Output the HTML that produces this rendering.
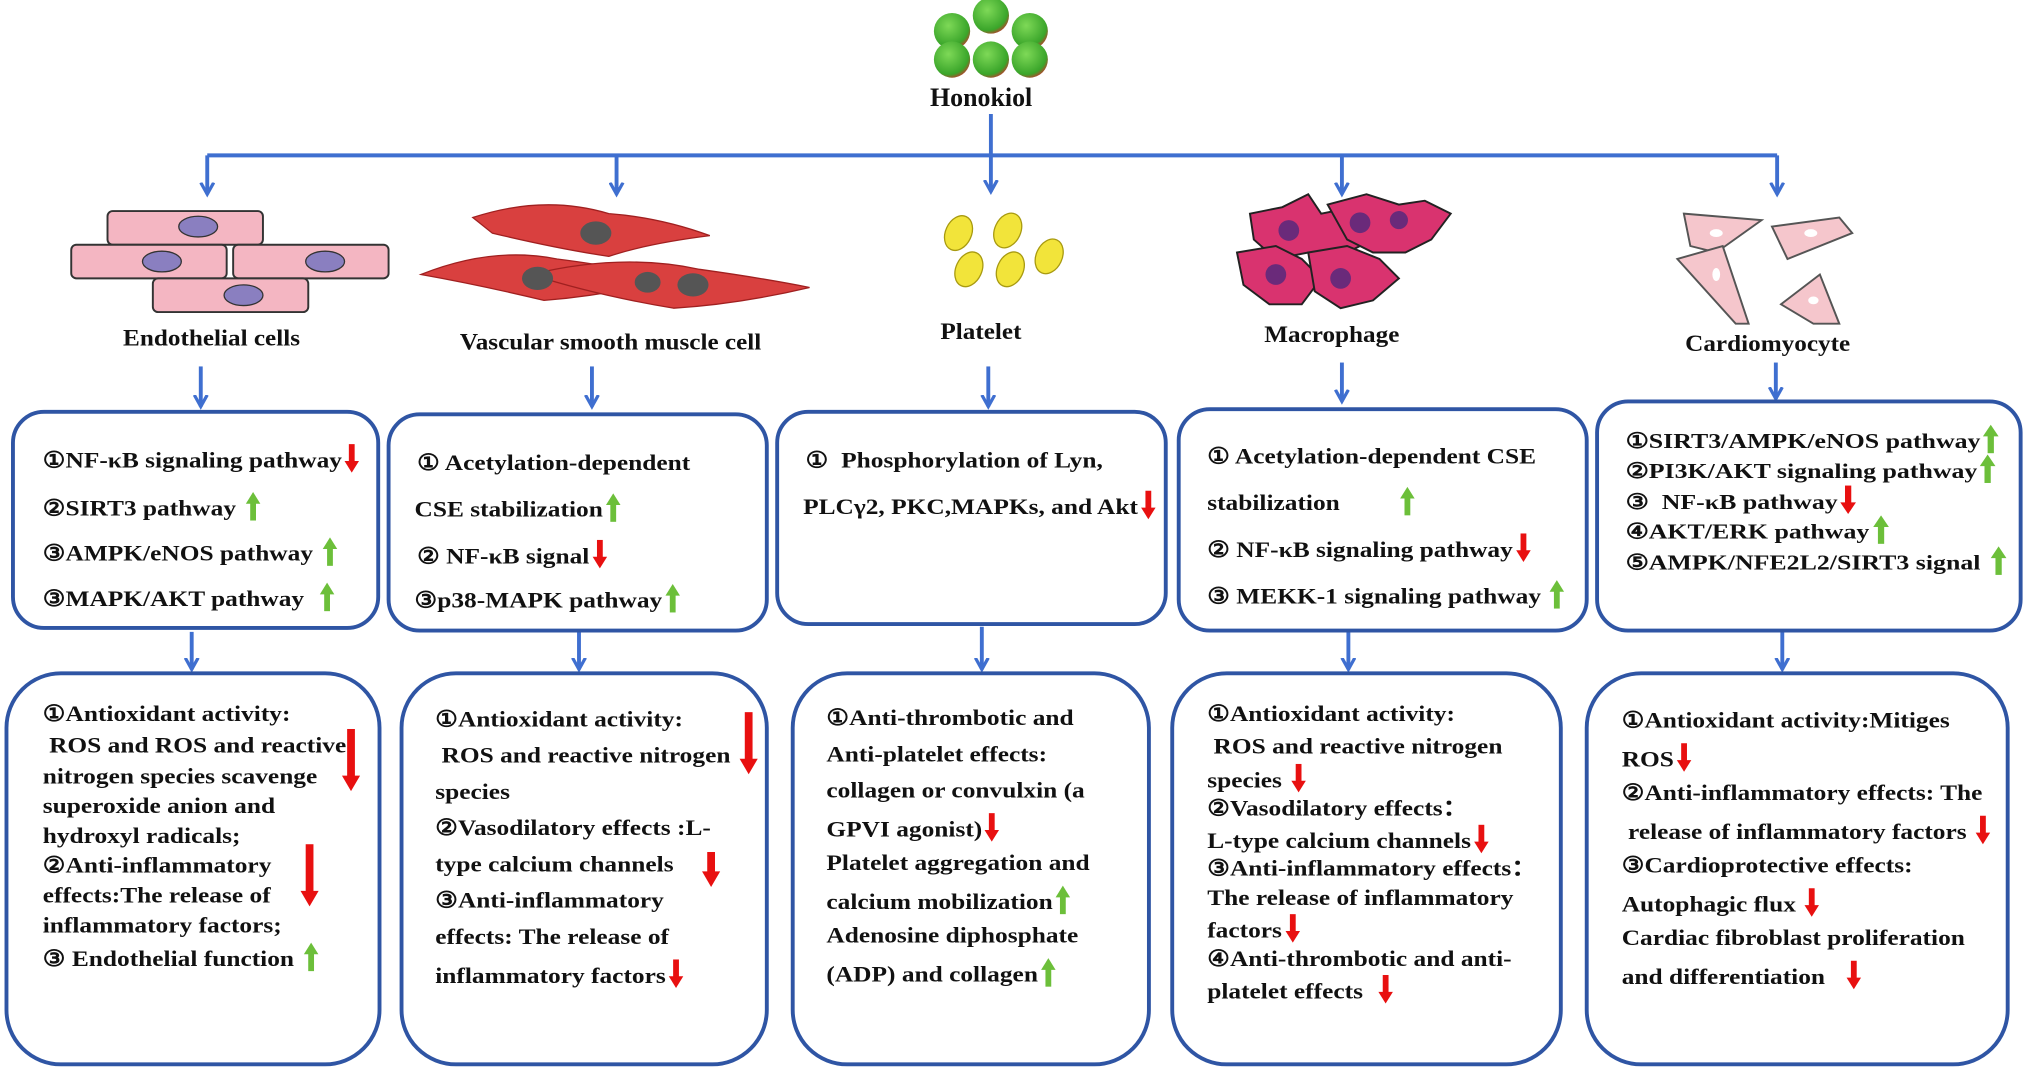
<!DOCTYPE html>
<html><head><meta charset="utf-8"><style>
html,body{margin:0;padding:0;background:#fff;overflow:hidden}
#w{width:1568px;height:831px;position:relative;transform:scale(1.29528,1.29483);transform-origin:0 0}
svg{position:absolute;left:0;top:0}
.t{position:absolute;font-family:"Liberation Serif",serif;font-weight:bold;font-size:17.5px;color:#111;white-space:pre;line-height:20px;transform:scaleX(1.12);transform-origin:0 0}
.s{font-size:16.5px;transform:scaleX(1.21)}
.c{font-size:18px;transform:scaleX(1.08)}
.dn,.up{display:inline-block;position:relative;width:10px;height:22px;vertical-align:-4px;margin-left:2px}
.dn::before{content:"";position:absolute;left:3px;top:0;width:4px;height:14px;background:#e81010}
.dn::after{content:"";position:absolute;left:0;top:13px;border-left:5px solid transparent;border-right:5px solid transparent;border-top:9px solid #e81010}
.up::before{content:"";position:absolute;left:3px;top:8px;width:4px;height:14px;background:#6cbf3a}
.up::after{content:"";position:absolute;left:0;top:0;border-left:5px solid transparent;border-right:5px solid transparent;border-bottom:9px solid #6cbf3a}
.big{position:absolute;width:14px}
.big::before{content:"";position:absolute;left:4px;top:0;width:6px;bottom:10px;background:#e81010}
.big::after{content:"";position:absolute;left:0;bottom:0;border-left:7px solid transparent;border-right:7px solid transparent;border-top:12px solid #e81010}
</style></head><body><div id="w">
<svg width="1568" height="831" viewBox="0 0 1568 831">
<defs><marker id="a" markerWidth="12" markerHeight="12" refX="9" refY="6" orient="auto" markerUnits="userSpaceOnUse"><path d="M0,1 L9,6 L0,11" fill="none" stroke="#3f6fd0" stroke-width="2.5"/></marker>
<radialGradient id="g" cx="0.4" cy="0.35" r="0.7"><stop offset="0" stop-color="#7ed957"/><stop offset="0.8" stop-color="#3aa52a"/><stop offset="1" stop-color="#c0392b"/></radialGradient></defs>
<g fill="url(#g)">
<circle cx="765" cy="12" r="14"/><circle cx="735" cy="24" r="14"/><circle cx="795" cy="24" r="14"/>
<circle cx="735" cy="46" r="14"/><circle cx="765" cy="46" r="14"/><circle cx="795" cy="46" r="14"/></g>
<g stroke="#3f6fd0" stroke-width="3" fill="none">
<line x1="765" y1="88" x2="765" y2="148" marker-end="url(#a)"/>
<line x1="160" y1="120" x2="1372" y2="120"/>
<line x1="160" y1="120" x2="160" y2="150" marker-end="url(#a)"/>
<line x1="476" y1="120" x2="476" y2="150" marker-end="url(#a)"/>
<line x1="1036" y1="120" x2="1036" y2="150" marker-end="url(#a)"/>
<line x1="1372" y1="120" x2="1372" y2="150" marker-end="url(#a)"/>
<line x1="155" y1="283" x2="155" y2="314" marker-end="url(#a)"/>
<line x1="457" y1="283" x2="457" y2="314" marker-end="url(#a)"/>
<line x1="763" y1="283" x2="763" y2="314" marker-end="url(#a)"/>
<line x1="1036" y1="280" x2="1036" y2="310" marker-end="url(#a)"/>
<line x1="1371" y1="280" x2="1371" y2="308" marker-end="url(#a)"/>
<line x1="148" y1="488" x2="148" y2="517" marker-end="url(#a)"/>
<line x1="447" y1="488" x2="447" y2="517" marker-end="url(#a)"/>
<line x1="758" y1="484" x2="758" y2="517" marker-end="url(#a)"/>
<line x1="1041" y1="488" x2="1041" y2="517" marker-end="url(#a)"/>
<line x1="1376" y1="488" x2="1376" y2="517" marker-end="url(#a)"/>
</g>
<g stroke="#2f55a4" stroke-width="3" fill="none">
<rect x="10" y="318" width="282" height="167" rx="24"/>
<rect x="300" y="320" width="292" height="167" rx="24"/>
<rect x="600" y="318" width="300" height="164" rx="24"/>
<rect x="910" y="316" width="315" height="171" rx="24"/>
<rect x="1233" y="310" width="327" height="177" rx="24"/>
<rect x="5" y="520" width="288" height="302" rx="42"/>
<rect x="310" y="520" width="282" height="302" rx="42"/>
<rect x="612" y="520" width="275" height="302" rx="42"/>
<rect x="905" y="520" width="300" height="302" rx="42"/>
<rect x="1225" y="520" width="325" height="302" rx="42"/>
</g>
<g fill="#f4b6c2" stroke="#333" stroke-width="1.5">
<rect x="83" y="163" width="120" height="26" rx="4"/>
<rect x="55" y="189" width="120" height="26" rx="4"/>
<rect x="180" y="189" width="120" height="26" rx="4"/>
<rect x="118" y="215" width="120" height="26" rx="4"/></g>
<g fill="#8a7fc0" stroke="#333"><ellipse cx="153" cy="175" rx="15" ry="8"/><ellipse cx="125" cy="202" rx="15" ry="8"/><ellipse cx="251" cy="202" rx="15" ry="8"/><ellipse cx="188" cy="228" rx="15" ry="8"/></g>
<g fill="#d9403f" stroke="#a02020">
<path d="M365,168 Q420,150 470,165 Q510,168 548,182 Q500,188 470,198 Q430,192 380,180Z"/>
<path d="M325,212 Q380,190 430,200 Q470,205 520,215 Q470,228 420,232 Q370,220 325,212Z"/>
<path d="M410,212 Q480,195 540,208 Q590,215 625,222 Q570,235 520,238 Q460,228 410,212Z"/></g>
<g fill="#555"><ellipse cx="460" cy="180" rx="12" ry="9"/><ellipse cx="415" cy="215" rx="12" ry="9"/><ellipse cx="500" cy="218" rx="10" ry="8"/><ellipse cx="535" cy="220" rx="12" ry="9"/></g>
<g fill="#f2e43a" stroke="#a89a10">
<ellipse cx="740" cy="180" rx="10" ry="14" transform="rotate(25 740 180)"/>
<ellipse cx="778" cy="178" rx="10" ry="14" transform="rotate(25 778 178)"/>
<ellipse cx="810" cy="198" rx="10" ry="14" transform="rotate(25 810 198)"/>
<ellipse cx="748" cy="208" rx="10" ry="14" transform="rotate(25 748 208)"/>
<ellipse cx="780" cy="208" rx="10" ry="14" transform="rotate(25 780 208)"/></g>
<g fill="#d9336f" stroke="#222" stroke-width="1.5">
<path d="M965,165 L990,160 L1010,150 L1020,165 L1045,160 L1060,170 L1050,190 L1030,200 L1010,195 L985,200 L968,185Z"/>
<path d="M1025,158 L1055,150 L1080,158 L1100,155 L1120,165 L1105,185 L1085,195 L1060,195 L1040,185Z"/>
<path d="M955,195 L985,190 L1005,200 L1020,215 L1005,235 L980,235 L960,220Z"/>
<path d="M1010,195 L1040,190 L1065,200 L1080,215 L1060,232 L1035,238 L1015,225Z"/></g>
<g fill="#6a2a7a"><circle cx="995" cy="178" r="8"/><circle cx="1050" cy="172" r="8"/><circle cx="1080" cy="170" r="7"/><circle cx="985" cy="212" r="8"/><circle cx="1035" cy="215" r="8"/></g>
<g fill="#f5c6cc" stroke="#555" stroke-width="1.5">
<path d="M1300,165 L1360,170 L1325,195 L1305,190Z"/>
<path d="M1368,175 L1420,168 L1430,180 L1380,200Z"/>
<path d="M1295,200 L1330,190 L1350,250 L1340,250Z"/>
<path d="M1375,235 L1405,212 L1420,250 L1400,250Z"/></g>
<g fill="#fff"><ellipse cx="1325" cy="180" rx="5" ry="3"/><ellipse cx="1398" cy="180" rx="5" ry="3"/><ellipse cx="1325" cy="212" rx="3" ry="5"/><ellipse cx="1400" cy="232" rx="4" ry="3"/></g>
</svg>

<div class="t c" style="left:718px;top:66px;font-size:20px;transform:none">Honokiol</div>
<div class="t c" style="left:95px;top:251px">Endothelial cells</div>
<div class="t c" style="left:355px;top:254px">Vascular smooth muscle cell</div>
<div class="t c" style="left:726px;top:246px">Platelet</div>
<div class="t c" style="left:976px;top:248px">Macrophage</div>
<div class="t c" style="left:1301px;top:255px">Cardiomyocyte</div>

<div class="t" style="left:33px;top:343px">①NF-κB signaling pathway<span class="dn"></span></div>
<div class="t" style="left:33px;top:380px">②SIRT3 pathway <span class="up"></span></div>
<div class="t" style="left:33px;top:415px">③AMPK/eNOS pathway <span class="up"></span></div>
<div class="t" style="left:33px;top:450px">③MAPK/AKT pathway  <span class="up"></span></div>

<div class="t" style="left:322px;top:347px">① Acetylation-dependent</div>
<div class="t" style="left:320px;top:381px">CSE stabilization<span class="up"></span></div>
<div class="t" style="left:322px;top:417px">② NF-κB signal<span class="dn"></span></div>
<div class="t" style="left:320px;top:451px">③p38-MAPK pathway<span class="up"></span></div>

<div class="t" style="left:622px;top:345px">①  Phosphorylation of Lyn,</div>
<div class="t" style="left:620px;top:379px">PLCγ2, PKC,MAPKs, and Akt<span class="dn"></span></div>

<div class="t" style="left:932px;top:342px">① Acetylation-dependent CSE</div>
<div class="t" style="left:932px;top:376px">stabilization         <span class="up"></span></div>
<div class="t" style="left:932px;top:412px">② NF-κB signaling pathway<span class="dn"></span></div>
<div class="t" style="left:932px;top:448px">③ MEKK-1 signaling pathway <span class="up"></span></div>

<div class="t s" style="left:1255px;top:328px">①SIRT3/AMPK/eNOS pathway<span class="up"></span></div>
<div class="t s" style="left:1255px;top:351px">②PI3K/AKT signaling pathway<span class="up"></span></div>
<div class="t s" style="left:1255px;top:375px">③  NF-κB pathway<span class="dn"></span></div>
<div class="t s" style="left:1255px;top:398px">④AKT/ERK pathway<span class="up"></span></div>
<div class="t s" style="left:1255px;top:422px">⑤AMPK/NFE2L2/SIRT3 signal <span class="up"></span></div>

<div class="t" style="left:33px;top:541px">①Antioxidant activity:</div>
<div class="t" style="left:33px;top:565px"> ROS and ROS and reactive</div>
<div class="t" style="left:33px;top:589px">nitrogen species scavenge</div>
<div class="t" style="left:33px;top:612px">superoxide anion and</div>
<div class="t" style="left:33px;top:635px">hydroxyl radicals;</div>
<div class="t" style="left:33px;top:658px">②Anti-inflammatory</div>
<div class="t" style="left:33px;top:681px">effects:The release of</div>
<div class="t" style="left:33px;top:704px">inflammatory factors;</div>
<div class="t" style="left:33px;top:728px">③ Endothelial function <span class="up"></span></div>
<div class="big" style="left:264px;top:563px;height:48px"></div>
<div class="big" style="left:232px;top:652px;height:48px"></div>

<div class="t" style="left:336px;top:545px">①Antioxidant activity:</div>
<div class="t" style="left:336px;top:573px"> ROS and reactive nitrogen</div>
<div class="t" style="left:336px;top:601px">species</div>
<div class="t" style="left:336px;top:629px">②Vasodilatory effects :L-</div>
<div class="t" style="left:336px;top:657px">type calcium channels</div>
<div class="t" style="left:336px;top:685px">③Anti-inflammatory</div>
<div class="t" style="left:336px;top:713px">effects: The release of</div>
<div class="t" style="left:336px;top:741px">inflammatory factors<span class="dn"></span></div>
<div class="big" style="left:571px;top:550px;height:48px"></div>
<div class="big" style="left:542px;top:658px;height:27px"></div>

<div class="t" style="left:638px;top:544px">①Anti-thrombotic and</div>
<div class="t" style="left:638px;top:572px">Anti-platelet effects:</div>
<div class="t" style="left:638px;top:600px">collagen or convulxin (a</div>
<div class="t" style="left:638px;top:628px">GPVI agonist)<span class="dn"></span></div>
<div class="t" style="left:638px;top:656px">Platelet aggregation and</div>
<div class="t" style="left:638px;top:684px">calcium mobilization<span class="up"></span></div>
<div class="t" style="left:638px;top:712px">Adenosine diphosphate</div>
<div class="t" style="left:638px;top:740px">(ADP) and collagen<span class="up"></span></div>

<div class="t" style="left:932px;top:541px">①Antioxidant activity:</div>
<div class="t" style="left:932px;top:566px"> ROS and reactive nitrogen</div>
<div class="t" style="left:932px;top:590px">species <span class="dn"></span></div>
<div class="t" style="left:932px;top:614px">②Vasodilatory effects：</div>
<div class="t" style="left:932px;top:637px">L-type calcium channels<span class="dn"></span></div>
<div class="t" style="left:932px;top:660px">③Anti-inflammatory effects：</div>
<div class="t" style="left:932px;top:683px">The release of inflammatory</div>
<div class="t" style="left:932px;top:706px">factors<span class="dn"></span></div>
<div class="t" style="left:932px;top:730px">④Anti-thrombotic and anti-</div>
<div class="t" style="left:932px;top:753px">platelet effects  <span class="dn"></span></div>

<div class="t" style="left:1252px;top:546px">①Antioxidant activity:Mitiges</div>
<div class="t" style="left:1252px;top:574px">ROS<span class="dn"></span></div>
<div class="t" style="left:1252px;top:602px">②Anti-inflammatory effects: The</div>
<div class="t" style="left:1252px;top:630px"> release of inflammatory factors <span class="dn"></span></div>
<div class="t" style="left:1252px;top:658px">③Cardioprotective effects:</div>
<div class="t" style="left:1252px;top:686px">Autophagic flux <span class="dn"></span></div>
<div class="t" style="left:1252px;top:714px">Cardiac fibroblast proliferation</div>
<div class="t" style="left:1252px;top:742px">and differentiation   <span class="dn"></span></div>
</div></body></html>
